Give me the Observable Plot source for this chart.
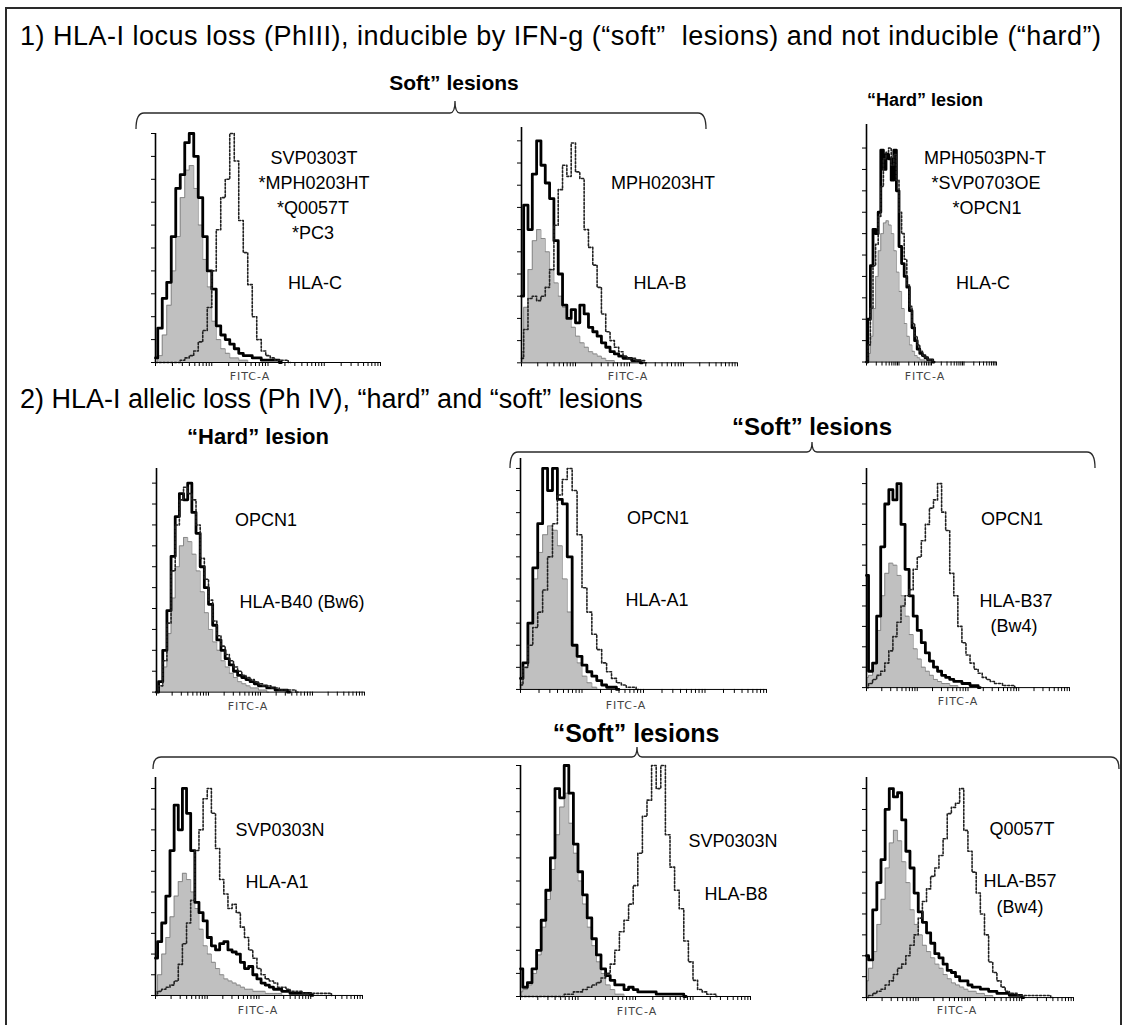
<!DOCTYPE html>
<html>
<head>
<meta charset="utf-8">
<script src="https://cdn.jsdelivr.net/npm/d3@7"></script>
<script src="https://cdn.jsdelivr.net/npm/@observablehq/plot@0.6"></script>
<style>
  html, body { margin: 0; padding: 0; background: #fff; }
  #fig { position: relative; width: 1127px; height: 1025px; overflow: hidden; background: #fff;
         font-family: "Liberation Sans", Arial, sans-serif; color: #000; }
  .t { position: absolute; white-space: pre; line-height: 1; }
  .c { transform: translate(-50%, -50%); }
  .l { transform: translate(0, -50%); }
  .lab { font-size: 18px; }
  .hdr { font-weight: bold; }
  .fitc { font-family: "DejaVu Sans", Verdana, sans-serif; font-size: 11px; color: #444; letter-spacing: 1px; }
</style>
</head>
<body>
<div id="fig"></div>
<script>
// ---------------- DATA (histogram counts, % of panel maximum; bins every 0.02 of the FITC-A axis) ----------------
// Panel 1: SVP0303T ... HLA-C
const p1Gray  = [0,3,12,25,40,55,72,84,86,76,60,45,33,18,10,6,4,2,2,1,1,0];
const p1Solid = [2,15,28,35,55,76,82,96,100,90,72,55,40,32,16,12,10,8,6,4,3,3,2,2,1,1,1,1,0];
const p1Dash  = [0,0,0,0,0,0,1,2,3,5,9,14,24,40,58,72,80,100,88,62,48,34,20,10,5,3,2,1,1,1,0];
// Panel 2: MPH0203HT HLA-B
const p2Gray  = [5,25,42,55,60,56,50,42,36,30,25,20,16,12,9,7,5,4,3,2,1,1,0];
const p2Solid = [30,71,60,85,100,89,81,74,55,40,26,20,24,18,26,22,16,14,12,9,7,5,4,3,2,2,1,1,0];
const p2Dash  = [2,15,29,30,28,30,34,42,62,78,89,84,99,86,83,60,52,44,34,22,14,10,7,5,3,2,2,1,1,0];
// Panel 3: MPH0503PN-T HLA-C (hard)
const p3Gray  = [0,4,12,25,40,52,60,65,66,64,60,52,42,33,25,18,12,8,5,3,2,1,1,0];
const p3Solid = [0,20,45,62,60,70,99,90,97,95,85,99,80,54,46,40,35,24,16,10,6,4,3,2,1,1,0];
const p3Dash  = [0,8,25,45,55,68,82,95,98,100,92,97,85,70,60,48,36,26,18,12,8,5,3,2,1,1,0];
// Panel 4: OPCN1 HLA-B40 (Bw6)
const p4Gray  = [0,3,12,28,45,60,70,74,72,66,58,48,38,30,24,20,15,12,9,7,5,4,3,2,2,1,1,0];
const p4Solid = [0,5,20,39,65,84,95,92,100,86,76,60,50,42,32,25,20,16,13,10,8,7,6,5,4,3,3,2,2,1,1,1,0];
const p4Dash  = [0,3,15,33,58,80,92,98,95,92,80,64,54,44,34,27,22,18,15,12,10,8,7,6,5,4,3,3,2,2,1,1,1,1,0];
// Panel 5: OPCN1 HLA-A1
const p5Gray  = [3,10,30,50,62,70,74,72,65,50,35,20,12,6,3,1,0];
const p5Solid = [5,12,30,55,75,100,90,100,86,84,60,20,15,11,8,6,4,2,1,1,0];
const p5Dash  = [2,10,20,28,35,45,60,75,88,95,100,90,70,46,35,25,18,12,8,5,3,2,1,1,0];
// Panel 6: OPCN1 HLA-B37 (Bw4)
const p6Gray  = [5,6,12,28,45,56,61,60,55,45,35,26,19,14,10,8,6,4,3,2,2,1,1,0];
const p6Solid = [55,8,12,35,69,90,97,92,100,80,58,45,35,28,22,17,13,10,8,6,5,4,3,3,2,2,1,1,0];
const p6Dash  = [0,2,4,6,8,12,18,25,32,40,45,48,58,64,72,80,88,92,100,86,77,56,45,30,22,16,12,9,7,5,4,3,2,2,1,1,1,0];
// Panel 7: SVP0303N HLA-A1
const p7Gray  = [2,10,20,28,38,48,55,59,56,50,42,32,24,20,16,13,10,8,7,6,5,4,3,3,2,2,2,1,1,1,1,0];
const p7Solid = [18,26,35,48,70,92,80,100,88,70,45,40,36,28,24,22,25,26,22,21,20,16,13,14,10,8,6,5,4,3,3,2,2,1,1,1,1,1,0];
const p7Dash  = [0,2,3,4,5,7,15,25,35,46,70,80,95,100,88,71,56,49,42,44,40,33,28,22,18,13,10,8,7,6,4,4,3,2,2,2,1,1,1,1,1,1,1,0];
// Panel 8: SVP0303N HLA-B8
const p8Gray  = [2,3,5,10,18,30,42,55,70,82,88,75,62,50,40,30,22,15,10,5,3,1,1,0];
const p8Solid = [12,4,6,12,20,33,46,60,90,86,100,88,66,54,44,34,25,18,12,9,7,5,5,3,4,3,2,2,2,2,1,1,1,1,1,1,0];
const p8Dash  = [0,0,0,0,0,0,0,0,0,0,1,1,2,2,3,4,5,6,8,10,14,20,28,33,40,48,62,78,85,100,90,100,70,56,46,38,24,15,7,3,2,1,1,0];
// Panel 9: Q0057T HLA-B57 (Bw4)
const p9Gray  = [8,14,22,35,47,62,74,80,75,65,55,42,35,30,25,22,19,16,14,11,9,7,6,5,4,3,3,2,2,1,1,0];
const p9Solid = [20,18,42,55,66,90,100,96,98,85,70,62,50,41,36,31,26,21,19,16,13,12,10,8,8,6,5,5,4,4,3,3,2,2,2,1,1,1,0];
const p9Dash  = [0,1,2,3,4,6,8,11,14,16,20,25,30,38,46,52,58,62,68,76,88,91,93,100,80,70,60,50,40,30,17,12,8,5,3,2,2,1,1,1,1,1,1,1,1,0];

// Text
const title1 = "1) HLA-I locus loss (PhIII), inducible by IFN-g (\u201csoft\u201d  lesions) and not inducible (\u201chard\u201d)";
const title2 = "2) HLA-I allelic loss (Ph IV), \u201chard\u201d and \u201csoft\u201d lesions";
const headers = [
  ["Soft\u201d lesions", 454, 82, 21],
  ["\u201cHard\u201d lesion", 925, 100, 18],
  ["\u201cHard\u201d lesion", 258, 437, 22],
  ["\u201cSoft\u201d lesions", 812, 427, 24],
  ["\u201cSoft\u201d lesions", 636, 733, 25]
];
const axisName = "FITC-A";

// ---------------- LAYOUT ----------------
const STEP = 0.02;
const X_TICKS = [].concat(...d3.range(4).map(d => d3.range(1, 10).map(k => (d + Math.log10(k)) / 4)), [1]);
const Y_TICKS = d3.range(0, 101, 10);

const panels = [
  {gray: p1Gray, solid: p1Solid, dash: p1Dash, left: 155, bottom: 362, w: 225, h: 229, ext: 1.00, fitc: [250, 376],
   labels: [["SVP0303T", 314, 158], ["*MPH0203HT", 314, 183], ["*Q0057T", 313, 208], ["*PC3", 313, 233], ["HLA-C", 315, 283]]},
  {gray: p2Gray, solid: p2Solid, dash: p2Dash, left: 521, bottom: 362, w: 216, h: 222, ext: 1.06, fitc: [628, 376],
   labels: [["MPH0203HT", 663, 183], ["HLA-B", 660, 283]]},
  {gray: p3Gray, solid: p3Solid, dash: p3Dash, left: 866, bottom: 362, w: 130, h: 214, ext: 1.11, fitc: [925, 376],
   labels: [["MPH0503PN-T", 985, 158], ["*SVP0703OE", 986, 183], ["*OPCN1", 987, 208], ["HLA-C", 983, 283]]},
  {gray: p4Gray, solid: p4Solid, dash: p4Dash, left: 156, bottom: 692, w: 208, h: 209, ext: 1.07, fitc: [248, 706],
   labels: [["OPCN1", 266, 520], ["HLA-B40 (Bw6)", 302, 602]]},
  {gray: p5Gray, solid: p5Solid, dash: p5Dash, left: 520, bottom: 689, w: 246, h: 221, ext: 1.045, fitc: [626, 705],
   labels: [["OPCN1", 658, 518], ["HLA-A1", 657, 600]]},
  {gray: p6Gray, solid: p6Solid, dash: p6Dash, left: 866, bottom: 687, w: 203, h: 204, ext: 1.074, fitc: [958, 701],
   labels: [["OPCN1", 1012, 519], ["HLA-B37", 1016, 601], ["(Bw4)", 1014, 626]]},
  {gray: p7Gray, solid: p7Solid, dash: p7Dash, left: 155, bottom: 995, w: 207, h: 207, ext: 1.053, fitc: [258, 1010],
   labels: [["SVP0303N", 280, 830], ["HLA-A1", 277, 882]]},
  {gray: p8Gray, solid: p8Solid, dash: p8Dash, left: 520, bottom: 996, w: 230, h: 231, ext: 1.0, fitc: [637, 1011],
   labels: [["SVP0303N", 733, 841], ["HLA-B8", 736, 894]]},
  {gray: p9Gray, solid: p9Solid, dash: p9Dash, left: 866, bottom: 997, w: 207, h: 209, ext: 1.053, fitc: [957, 1010],
   labels: [["Q0057T", 1022, 829], ["HLA-B57", 1020, 881], ["(Bw4)", 1020, 907]]}
];

const fig = document.getElementById("fig");
function addText(txt, x, y, cls, extra) {
  const d = document.createElement("div");
  d.className = "t " + cls;
  d.textContent = txt;
  d.style.left = x + "px";
  d.style.top = y + "px";
  if (extra) Object.assign(d.style, extra);
  fig.appendChild(d);
  return d;
}
const rows = arr => arr.map((v, k) => ({u: k * STEP, v}));

// frame and brackets
const NS = "http://www.w3.org/2000/svg";
const deco = document.createElementNS(NS, "svg");
deco.setAttribute("width", 1127); deco.setAttribute("height", 1025);
deco.style.position = "absolute"; deco.style.left = "0"; deco.style.top = "0";
fig.appendChild(deco);
function path(d, w) {
  const p = document.createElementNS(NS, "path");
  p.setAttribute("d", d); p.setAttribute("fill", "none");
  p.setAttribute("stroke", "#2a2a2a"); p.setAttribute("stroke-width", w);
  deco.appendChild(p);
}
path("M6,1025 L6,8 L1121,8 L1121,1025", 2);
function brace(x1, x2, xm, y, drop, notch) {
  return `M${x1},${y + drop} Q${x1},${y} ${x1 + 8},${y} L${xm - 5},${y} Q${xm},${y} ${xm},${y - notch} ` +
         `Q${xm},${y} ${xm + 5},${y} L${x2 - 8},${y} Q${x2},${y} ${x2},${y + drop}`;
}
path(brace(136, 706, 455, 113, 16, 12), 1.3);
path(brace(510, 1095, 812, 452, 16, 10), 1.3);
path(brace(153, 1119, 637, 757, 12, 10), 1.3);

// titles & headers
addText(title1, 20, 36, "l", {fontSize: "27px", letterSpacing: "0.5px"});
addText(title2, 20, 399, "l", {fontSize: "27px"});
for (const [txt, x, y, fs] of headers) addText(txt, x, y, "c hdr", {fontSize: fs + "px"});

// panels
for (const P of panels) {
  const ymax = 100 * P.ext;
  const Hfull = P.h * P.ext;
  const mL = 8, mR = 3, mT = 2, mB = 8;
  const chart = Plot.plot({
    width: P.w + mL + mR,
    height: Hfull + mT + mB,
    marginLeft: mL, marginRight: mR, marginTop: mT, marginBottom: mB,
    style: {background: "transparent", overflow: "visible"},
    x: {domain: [0, 1], ticks: X_TICKS, tickSize: 4, tickFormat: () => "", label: null},
    y: {domain: [0, ymax], ticks: Y_TICKS, tickSize: 4, tickFormat: () => "", label: null},
    marks: [
      Plot.areaY(rows(P.gray), {x: "u", y: "v", curve: "step", fill: "#c0c0c0"}),
      Plot.lineY(rows(P.gray), {x: "u", y: "v", curve: "step", stroke: "#707070", strokeWidth: 0.7}),
      Plot.lineY(rows(P.solid), {x: "u", y: "v", curve: "step", stroke: "#000", strokeWidth: 2.8}),
      Plot.lineY(rows(P.dash), {x: "u", y: "v", curve: "step", stroke: "#222", strokeWidth: 1.6, strokeDasharray: "2,1.8"}),
      Plot.ruleX([0], {y1: 0, y2: ymax, stroke: "#000", strokeWidth: 1.6}),
      Plot.ruleY([0], {stroke: "#000", strokeWidth: 1})
    ]
  });
  chart.style.position = "absolute";
  chart.style.left = (P.left - mL) + "px";
  chart.style.top = (P.bottom - Hfull - mT) + "px";
  fig.appendChild(chart);
  addText(axisName, P.fitc[0], P.fitc[1], "c fitc");
  for (const [txt, x, y] of P.labels) addText(txt, x, y, "c lab");
}
</script>
</body>
</html>
